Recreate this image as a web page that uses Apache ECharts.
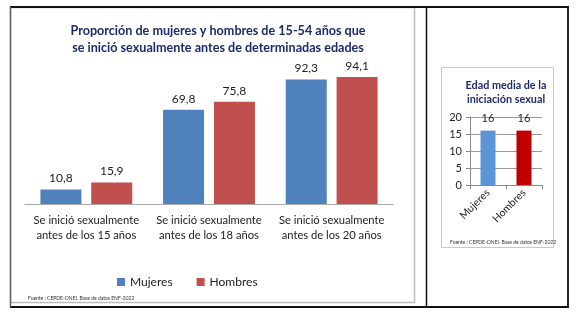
<!DOCTYPE html>
<html>
<head>
<meta charset="utf-8">
<style>
  html, body { margin: 0; padding: 0; background: #fff; }
  #chart { width: 580px; height: 321px; }
</style>
<script src="https://cdn.jsdelivr.net/npm/echarts@6/dist/echarts.min.js"></script>
</head>
<body>
<div id="chart"></div>
<script>
// Porcentaje que se inició sexualmente antes de cada edad
const categories = [
  'Se inició sexualmente\nantes de los 15 años',
  'Se inició sexualmente\nantes de los 18 años',
  'Se inició sexualmente\nantes de los 20 años'
];
const mujeres = [10.8, 69.8, 92.3];
const hombres = [15.9, 75.8, 94.1];

// Edad media de la iniciación sexual
const sexos = ['Mujeres', 'Hombres'];
const edadMedia = [16, 16];
const edadTicks = [0, 5, 10, 15, 20];

const FONT = 'Lato, "Open Sans", sans-serif';
const coma = v => String(v).replace('.', ',');

const chart = echarts.init(document.getElementById('chart'), null, { renderer: 'canvas' });

chart.setOption({
  animation: false,
  textStyle: { fontFamily: FONT },
  title: [
    {
      text: 'Proporción de mujeres y hombres de 15-54 años que\nse inició sexualmente antes de determinadas edades',
      left: 213, top: 17, textAlign: 'center',
      textStyle: { fontFamily: FONT, fontSize: 12.6, fontWeight: 'bold', color: '#1f2a6e', lineHeight: 17 }
    },
    {
      text: 'Edad media de la\niniciación sexual',
      left: 501, top: 74, textAlign: 'center',
      textStyle: { fontFamily: FONT, fontSize: 10.8, fontWeight: 'bold', color: '#1f2a6e', lineHeight: 14 }
    },
    {
      text: 'Fuente : CEPDE-ONEI. Base de datos ENF-2022',
      left: 23, top: 291,
      textStyle: { fontFamily: FONT, fontSize: 5, fontWeight: 'normal', color: '#333' }
    },
    {
      text: 'Fuente : CEPDE-ONEI. Base de datos ENF-2022',
      left: 445, top: 235,
      textStyle: { fontFamily: FONT, fontSize: 5, fontWeight: 'normal', color: '#333' }
    }
  ],
  legend: {
    data: ['Mujeres', 'Hombres'],
    left: 112, top: 271,
    itemWidth: 8, itemHeight: 8, itemGap: 24,
    icon: 'rect',
    textStyle: { fontFamily: FONT, fontSize: 12, color: '#222' }
  },
  grid: [
    { left: 25, right: 187, top: 69, bottom: 117 },
    { left: 470, right: 38, top: 117, bottom: 136 }
  ],
  xAxis: [
    {
      gridIndex: 0, type: 'category', data: categories,
      axisLine: { lineStyle: { color: '#aaa', width: 1 } },
      axisTick: { show: false },
      axisLabel: { interval: 0, fontFamily: FONT, fontSize: 11.2, color: '#222', lineHeight: 15, margin: 9 }
    },
    {
      gridIndex: 1, type: 'category', data: sexos,
      axisLine: { lineStyle: { color: '#888', width: 1 } },
      axisTick: { show: true, length: 4, lineStyle: { color: '#888' } },
      axisLabel: { interval: 0, fontFamily: FONT, fontSize: 10.5, color: '#222', rotate: 45, margin: 6 }
    }
  ],
  yAxis: [
    { gridIndex: 0, type: 'value', min: 0, max: 100, show: false },
    {
      gridIndex: 1, type: 'value', min: edadTicks[0], max: edadTicks[edadTicks.length - 1], interval: 5,
      axisLine: { show: true, lineStyle: { color: '#888' } },
      axisTick: { show: true, length: 4, lineStyle: { color: '#888' } },
      splitLine: { lineStyle: { color: '#999' } },
      axisLabel: { fontFamily: FONT, fontSize: 11, color: '#222', margin: 8 }
    }
  ],
  series: [
    {
      name: 'Mujeres', type: 'bar', xAxisIndex: 0, yAxisIndex: 0,
      data: mujeres, barWidth: 41, barGap: '24%',
      itemStyle: { color: '#4f81bd' },
      label: { show: true, position: 'top', distance: 5, fontFamily: FONT, fontSize: 12, color: '#222', formatter: p => coma(p.value) }
    },
    {
      name: 'Hombres', type: 'bar', xAxisIndex: 0, yAxisIndex: 0,
      data: hombres, barWidth: 41, barGap: '24%',
      itemStyle: { color: '#c0504d' },
      label: { show: true, position: 'top', distance: 5, fontFamily: FONT, fontSize: 12, color: '#222', formatter: p => coma(p.value) }
    },
    {
      name: 'Edad media', type: 'bar', xAxisIndex: 1, yAxisIndex: 1,
      data: edadMedia.map((v, i) => ({ value: v, itemStyle: { color: i === 0 ? '#5b95d8' : '#c00000' } })),
      barWidth: 15,
      label: { show: true, position: 'top', distance: 7, fontFamily: FONT, fontSize: 11, color: '#222' }
    }
  ],
  graphic: [
    // marco del gráfico principal
    { type: 'rect', silent: true, z: -1, shape: { x: 10.5, y: 7.5, width: 404, height: 295 },
      style: { fill: 'none', stroke: '#bdbdbd', lineWidth: 1.5 } },
    // marco del gráfico pequeño
    { type: 'rect', silent: true, z: -1, shape: { x: 441.5, y: 67.5, width: 112, height: 180 },
      style: { fill: 'none', stroke: '#c8c8c8', lineWidth: 1 } },
    // bordes de la tabla
    { type: 'line', silent: true, shape: { x1: 10, y1: 7, x2: 569, y2: 7 }, style: { stroke: '#111', lineWidth: 2 } },
    { type: 'line', silent: true, shape: { x1: 10, y1: 307, x2: 569, y2: 307 }, style: { stroke: '#111', lineWidth: 2 } },
    { type: 'line', silent: true, shape: { x1: 426.5, y1: 7, x2: 426.5, y2: 307 }, style: { stroke: '#111', lineWidth: 1.5 } },
    { type: 'line', silent: true, shape: { x1: 568, y1: 7, x2: 568, y2: 307 }, style: { stroke: '#222', lineWidth: 2 } },
    { type: 'line', silent: true, shape: { x1: 10.5, y1: 7, x2: 10.5, y2: 307 }, style: { stroke: '#666', lineWidth: 1.5 } }
  ]
});
</script>
</body>
</html>
